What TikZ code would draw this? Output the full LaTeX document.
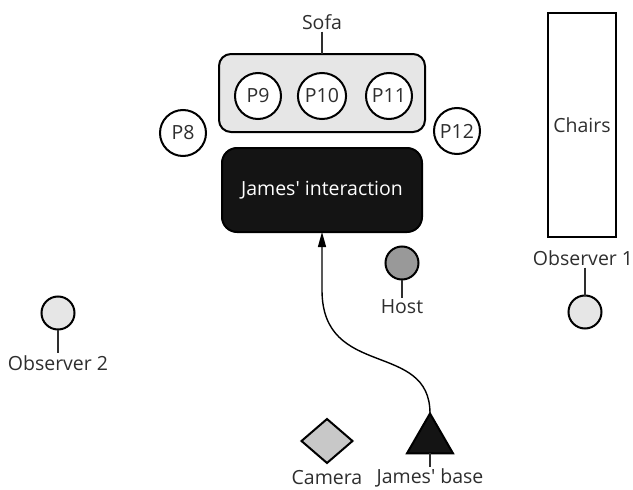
\documentclass[tikz,border=0pt]{standalone}
\usepackage{fontspec}
\setmainfont{Open Sans}
\usetikzlibrary{shapes.geometric,arrows.meta}
\definecolor{txtgray}{HTML}{2E2E2E}
\definecolor{sofagray}{HTML}{E6E6E6}
\definecolor{hostgray}{HTML}{999999}
\definecolor{camgray}{HTML}{C8C8C8}
\begin{document}
\begin{tikzpicture}[x=1pt, y=-1pt, outer sep=0pt, font=\fontsize{19.5}{23}\selectfont]

\tikzstyle{person}=[draw, circle, line width=2pt, fill=white, minimum size=46pt, inner sep=0pt, text=txtgray]
\tikzstyle{watcher}=[draw, circle, line width=2pt, fill=sofagray, minimum size=33pt, inner sep=0pt]
\tikzstyle{tag}=[text=txtgray, inner sep=2pt]
\tikzstyle{tick}=[line width=1.2pt, txtgray]

\useasboundingbox (0,0) rectangle (633,490);

% sofa with the three seats
\node[draw, line width=2pt, rounded corners=12pt, fill=sofagray, minimum width=206pt, minimum height=78pt] (sofa) at (322,93) {};
\node[tag] (sofalbl) at (322,22) {Sofa};
\draw[tick] (sofalbl) -- (sofa);
\node[person] (p9) at (258,96) {P9}; \node[person, ellipse, minimum width=37pt, minimum height=46pt] (p10) at (322,96) {P10}; \node[person] (p11) at (389,96) {P11};
\node[person] (p8) at (183,133) {P8}; \node[person] (p12) at (457,131) {P12};

% interaction area
\node[draw, line width=2pt, rounded corners=15pt, fill=black!92, text=white, minimum width=200pt, minimum height=84pt] (inter) at (322,190) {James\textquotesingle{} interaction};

% chairs and first observer
\node[draw, line width=2pt, minimum width=68pt, minimum height=224pt, text=txtgray] (chairs) at (582,125) {Chairs};
\node[tag] (obs1lbl) at (583,258) {Observer 1};
\node[watcher] (obs1) at (585,312) {};
\draw[tick] (obs1lbl.south -| obs1) -- (obs1);

% host
\node[watcher, fill=hostgray] (host) at (402,263) {};
\node[tag] (hostlbl) at (402,307) {Host};
\draw[tick] (host) -- (hostlbl);

% second observer
\node[watcher] (obs2) at (58,313) {};
\node[tag] (obs2lbl) at (58,363) {Observer 2};
\draw[tick] (obs2) -- (obs2lbl);

% camera and robot base
\node[draw, diamond, line width=2pt, fill=camgray, minimum width=51pt, minimum height=44pt, inner sep=0pt] (cam) at (327,441) {};
\node[tag] (camlbl) at (327,478) {Camera};
\node[draw, regular polygon, regular polygon sides=3, line width=2pt, fill=black!92, minimum size=53pt, inner sep=0pt] (base) at (430,440) {};
\node[tag] (baselbl) at (430,478) {James\textquotesingle{} base};
\draw[tick] (base.south) -- (baselbl);

\draw[line width=1.4pt, -{Triangle[length=15pt,width=8pt]}] (base.north) .. controls (430,340) and (322,380) .. (322,290) -- (inter.south);
\end{tikzpicture}
\end{document}
